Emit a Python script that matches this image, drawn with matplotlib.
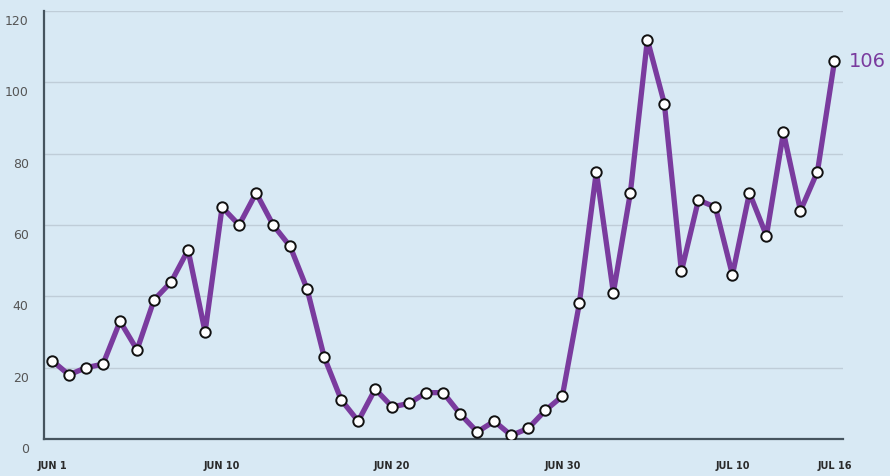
import matplotlib.pyplot as plt
import matplotlib.transforms as mtransforms

# daily values, Jun 1 .. Jul 16
values = [22, 18, 20, 21, 33, 25, 39, 44, 53, 30,
          65, 60, 69, 60, 54, 42, 23, 11, 5, 14,
          9, 10, 13, 13, 7, 2, 5, 1, 3, 8,
          12, 38, 75, 41, 69, 112, 94, 47, 67, 65,
          46, 69, 57, 86, 64, 75, 106]
days = list(range(len(values)))

tick_pos = [0, 10, 20, 30, 40, 46]
tick_labels = ["JUN 1", "JUN 10", "JUN 20", "JUN 30", "JUL 10", "JUL 16"]
y_ticks = [0, 20, 40, 60, 80, 100, 120]

bg = "#d8e9f4"
purple = "#7a3b9e"

fig = plt.figure(figsize=(8.9, 4.77), dpi=100)
fig.patch.set_facecolor(bg)
ax = fig.add_axes([44 / 890, 1 - 440 / 477, (843 - 44) / 890, (440 - 12) / 477])
ax.set_facecolor(bg)

ax.plot(days, values, color=purple, lw=3.8, zorder=3, solid_joinstyle="round",
        marker="o", markersize=7.5, markerfacecolor="white",
        markeredgecolor="#111111", markeredgewidth=1.4)

ax.set_xlim(-0.47, 46.5)
ax.set_ylim(0, 120)

for y in y_ticks[1:]:
    ax.axhline(y, color="#bfcdd8", lw=1.0, zorder=1)

for s in ["top", "right"]:
    ax.spines[s].set_visible(False)
for s in ["left", "bottom"]:
    ax.spines[s].set_color("#46545e")
    ax.spines[s].set_linewidth(1.6)

ax.set_yticks(y_ticks)
ax.set_yticklabels([str(v) for v in y_ticks], fontsize=9, color="#555555")
ax.tick_params(axis="y", length=0, pad=11)
shift = mtransforms.ScaledTranslation(0, -8 / 100, fig.dpi_scale_trans)
for lab in ax.get_yticklabels():
    lab.set_transform(lab.get_transform() + shift)

ax.set_xticks(tick_pos)
ax.set_xticklabels(tick_labels, fontsize=7, fontweight="bold", color="#2a2a2a")
ax.tick_params(axis="x", length=0, pad=15)

ax.annotate(str(values[-1]), xy=(days[-1], values[-1]), xytext=(10, 0),
            textcoords="offset points", ha="left", va="center",
            fontsize=14, color=purple, annotation_clip=False)

fig.savefig("out.png", dpi=100, facecolor=bg)
